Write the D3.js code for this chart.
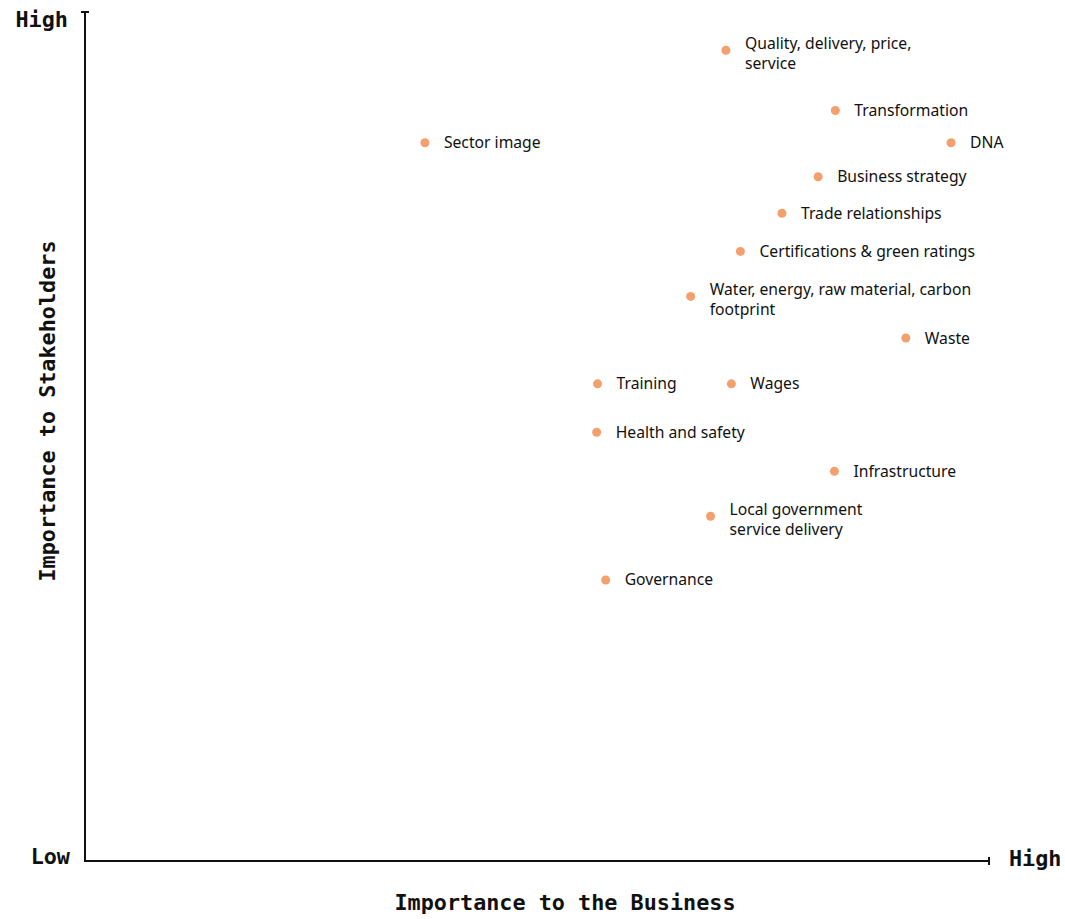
<!DOCTYPE html>
<html>
<head>
<meta charset="utf-8">
<script src="https://cdn.jsdelivr.net/npm/d3@7"></script>
<style>
  html, body { margin: 0; padding: 0; background: #fff; }
  svg { display: block; }
  .mono { font-family: "DejaVu Sans Mono", monospace; font-weight: bold; fill: #111; }
  .lbl { font-family: "Noto Sans", sans-serif; font-size: 15.7px; fill: #111; }
</style>
</head>
<body>
<svg id="chart" width="1065" height="919"></svg>
<script>
// Materiality topics, scored 0–100 on each axis
const topics = [
  ["Quality, delivery, price,", "service"],
  ["Transformation"],
  ["Sector image"],
  ["DNA"],
  ["Business strategy"],
  ["Trade relationships"],
  ["Certifications & green ratings"],
  ["Water, energy, raw material, carbon", "footprint"],
  ["Waste"],
  ["Training"],
  ["Wages"],
  ["Health and safety"],
  ["Infrastructure"],
  ["Local government", "service delivery"],
  ["Governance"]
];
const businessScore    = [70.9, 83.0, 37.6, 95.8, 81.1, 77.1, 72.5, 67.0, 90.8, 56.7, 71.5, 56.6, 82.9, 69.2, 57.6];
const stakeholderScore = [95.5, 88.4, 84.6, 84.6, 80.6, 76.3, 71.8, 66.5, 61.6, 56.2, 56.2, 50.5, 45.9, 40.6, 33.1];
const lowHigh = ["Low", "High"];

const svg = d3.select("#chart");
const x = d3.scaleLinear().domain([0, 100]).range([85, 989]);
const y = d3.scaleLinear().domain([0, 100]).range([861, 12]);

// axes with end caps
const axisG = svg.append("g").attr("stroke", "#111").attr("stroke-width", 2).attr("fill", "none");
axisG.append("path").attr("d", `M${x(0)},${y(100)} V${y(0)} H${x(100)}`);
axisG.append("line").attr("x1", x(0) - 4).attr("x2", x(0) + 4).attr("y1", y(100)).attr("y2", y(100));
axisG.append("line").attr("x1", x(100)).attr("x2", x(100)).attr("y1", y(0) - 4).attr("y2", y(0) + 4);

// axis end labels
const fs = 21.8;
svg.append("text").attr("class", "mono").attr("font-size", fs)
  .attr("x", 68).attr("y", 27).attr("text-anchor", "end").text(lowHigh[1]);
svg.append("text").attr("class", "mono").attr("font-size", fs)
  .attr("x", 70).attr("y", 864).attr("text-anchor", "end").text(lowHigh[0]);
svg.append("text").attr("class", "mono").attr("font-size", fs)
  .attr("x", 1009).attr("y", 866).attr("text-anchor", "start").text(lowHigh[1]);

// axis titles
svg.append("text").attr("class", "mono").attr("font-size", fs)
  .attr("x", 565).attr("y", 910).attr("text-anchor", "middle")
  .text("Importance to the Business");
svg.append("text").attr("class", "mono").attr("font-size", fs)
  .attr("transform", "translate(55,411) rotate(-90)").attr("text-anchor", "middle")
  .text("Importance to Stakeholders");

// points and labels
const data = topics.map((t, i) => ({ lines: t, bx: businessScore[i], sy: stakeholderScore[i] }));
const pts = svg.append("g").selectAll("g").data(data).join("g")
  .attr("transform", d => `translate(${x(d.bx)},${y(d.sy)})`);
pts.append("circle").attr("r", 4.5).attr("fill", "#F4A06C");
pts.append("text").attr("class", "lbl")
  .each(function(d) {
    const t = d3.select(this);
    const n = d.lines.length;
    d.lines.forEach((line, k) => {
      t.append("tspan").attr("x", 19)
        .attr("y", (k - (n - 1) / 2) * 20 + (n > 1 ? 3 : 0))
        .attr("dy", "0.35em").text(line);
    });
  });
</script>
</body>
</html>
